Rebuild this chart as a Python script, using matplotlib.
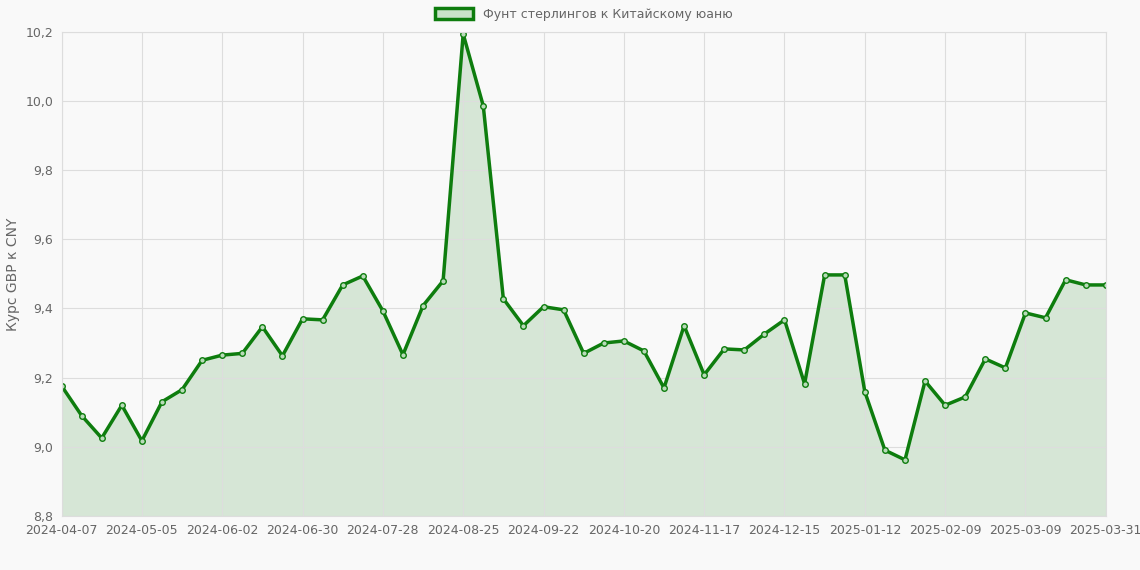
import datetime as dt

import matplotlib
matplotlib.use("Agg")
import matplotlib.pyplot as plt
from matplotlib.patches import Patch

start = dt.date(2024, 4, 7)
labels = [(start + dt.timedelta(weeks=k)).isoformat() for k in range(52)] + ["2025-03-31"]

rates = [
    9.176, 9.09, 9.025, 9.12, 9.017, 9.13, 9.165, 9.25, 9.265, 9.27,
    9.347, 9.263, 9.37, 9.367, 9.468, 9.494, 9.393, 9.266, 9.408, 9.48,
    10.194, 9.986, 9.428, 9.35, 9.405, 9.396, 9.27, 9.3, 9.306, 9.277,
    9.17, 9.35, 9.208, 9.283, 9.28, 9.326, 9.367, 9.182, 9.497, 9.497,
    9.159, 8.99, 8.962, 9.19, 9.12, 9.144, 9.254, 9.228, 9.387, 9.373,
    9.483, 9.468, 9.468,
]

x = list(range(len(rates)))
green = "#0e7d0e"

fig, ax = plt.subplots(figsize=(11.4, 5.7), dpi=100)
fig.patch.set_facecolor("#f9f9f9")
ax.set_facecolor("#f9f9f9")
fig.subplots_adjust(left=0.054, right=0.97, top=0.944, bottom=0.095)

ax.fill_between(x, rates, 8.8, color=green, alpha=0.15, linewidth=0)
ax.plot(x, rates, color=green, linewidth=2.5, marker="o", markersize=4,
        markerfacecolor="#b9dbb9", markeredgecolor=green, markeredgewidth=1)

ax.set_xlim(0, len(rates) - 1)
ax.set_ylim(8.8, 10.2)
ax.set_xticks(x[::4])
ax.set_xticklabels(labels[::4])
yt = [8.8 + 0.2 * i for i in range(8)]
ax.set_yticks(yt)
ax.set_yticklabels([f"{v:.1f}".replace(".", ",") for v in yt])
ax.tick_params(colors="#666666", labelsize=9, length=0, pad=6)
ax.grid(True, color="#dddddd", linewidth=0.8)
for s in ax.spines.values():
    s.set_color("#dddddd")
ax.set_ylabel("Курс GBP к CNY", color="#666666", fontsize=10)

handle = Patch(facecolor="#c9e3c9", edgecolor=green, linewidth=2.5)
leg = ax.legend([handle], ["Фунт стерлингов к Китайскому юаню"], loc="lower center",
                bbox_to_anchor=(0.5, 1.0), frameon=False, fontsize=9,
                handlelength=3, handleheight=0.9)
for t in leg.get_texts():
    t.set_color("#666666")

fig.savefig("out.png", dpi=100, facecolor=fig.get_facecolor())
